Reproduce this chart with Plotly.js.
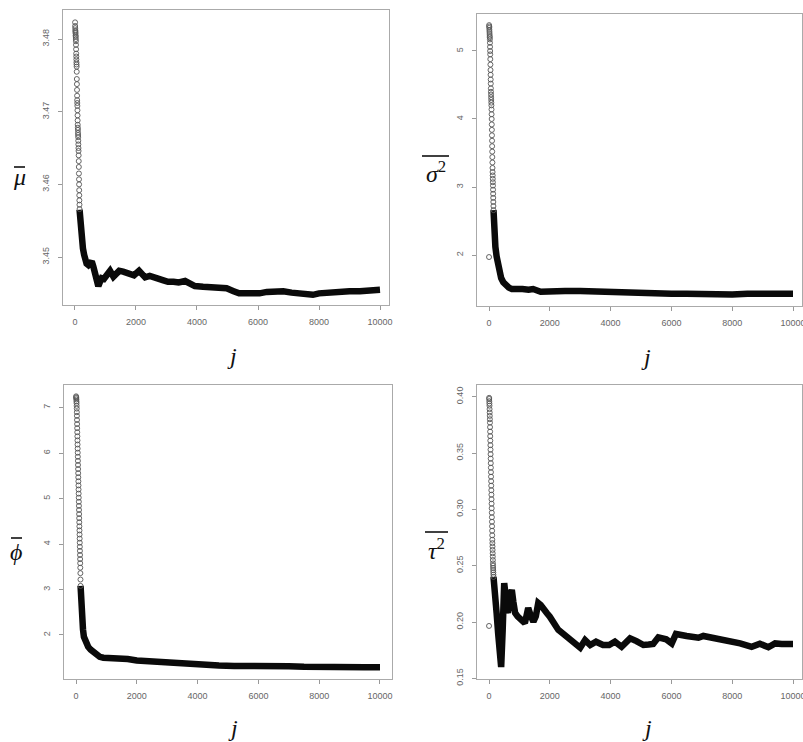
<!DOCTYPE html>
<html>
<head>
<meta charset="utf-8">
<script src="https://cdn.plot.ly/plotly-3.0.1.min.js"></script>
<style>html,body{margin:0;padding:0;background:#fff;}#chart{width:803px;height:742px;}</style>
</head>
<body>
<div id="chart"></div>
<script>
// ---------- data ----------
const xTickVals = [0, 2000, 4000, 6000, 8000, 10000];
const xTickLabels = ['0', '2000', '4000', '6000', '8000', '10000'];

// mu-bar: early scattered running means, then the settled path
const muStackJ = [3,6,9,12,15,18,21,24,27,30,33,36,39,42,45,48,51,54,57,60,63,66,69,72,75,78,81,84,87,90,93,96,99,102,105,108,111,114,117,120,123,126,129,132,135,138,141,144,147,150];
const muStackV = [3.4823,3.4818,3.4815,3.4812,3.4810,3.4808,3.4805,3.4803,3.4800,3.4797,3.4792,3.4786,3.4780,3.4776,3.4772,3.4768,3.4765,3.4762,3.4755,3.4745,3.4738,3.4730,3.4722,3.4716,3.4712,3.4708,3.4702,3.4695,3.4688,3.4682,3.4678,3.4675,3.4671,3.4668,3.4665,3.4660,3.4655,3.4650,3.4646,3.4640,3.4632,3.4624,3.4615,3.4607,3.4600,3.4592,3.4585,3.4578,3.4572,3.4566];
const muJ = [150,170,200,220,260,300,330,380,440,500,550,600,655,700,765,820,875,950,1040,1150,1260,1350,1450,1580,1700,1820,1935,2100,2200,2300,2450,2620,2750,2900,3050,3230,3400,3610,3750,3930,4200,4520,4750,4970,5200,5380,5600,5840,6050,6290,6550,6830,7100,7380,7600,7800,8000,8250,8460,8690,9000,9340,9650,10000];
const muV = [3.4565,3.4552,3.4540,3.4523,3.4512,3.4503,3.4496,3.4491,3.4489,3.4492,3.4494,3.4487,3.4480,3.4468,3.4460,3.4466,3.4471,3.4470,3.4476,3.4481,3.4473,3.4476,3.4481,3.4480,3.4479,3.4477,3.4475,3.4481,3.4477,3.4472,3.4474,3.4473,3.4470,3.4468,3.4466,3.4466,3.4465,3.4467,3.4464,3.4460,3.4459,3.4458,3.4459,3.4457,3.4453,3.4450,3.4450,3.4449,3.4450,3.4452,3.4453,3.4453,3.4451,3.4450,3.4450,3.4448,3.4450,3.4451,3.4452,3.4454,3.4453,3.4453,3.4454,3.4455];
const muTicks = [3.45, 3.46, 3.47, 3.48];

// sigma^2-bar
const sigStackJ = [1,4,7,10,13,16,19,22,25,28,31,34,37,40,43,46,49,52,55,58,61,64,67,70,73,76,79,82,85,88,91,94,97,100,103,106,109,112,115,118,121,124,127,130,133,136,139,142,145,148];
const sigStackV = [1.97,5.38,5.36,5.34,5.31,5.28,5.25,5.22,5.20,5.17,5.12,5.06,5.00,4.95,4.88,4.80,4.72,4.65,4.58,4.52,4.45,4.40,4.36,4.32,4.28,4.24,4.20,4.14,4.07,4.00,3.92,3.84,3.76,3.68,3.60,3.52,3.44,3.36,3.28,3.22,3.17,3.12,3.07,3.02,2.96,2.90,2.84,2.78,2.72,2.66];
const sigJ = [148,160,180,210,250,300,350,400,470,550,650,750,900,1100,1300,1450,1700,2000,2200,2500,3000,3500,4000,4500,5000,5500,6000,6500,7000,7500,8000,8500,9000,9500,10000];
const sigV = [2.66,2.42,2.30,2.12,1.98,1.86,1.74,1.66,1.60,1.56,1.52,1.50,1.51,1.50,1.49,1.50,1.46,1.47,1.48,1.47,1.47,1.46,1.45,1.44,1.44,1.43,1.43,1.43,1.42,1.42,1.42,1.43,1.43,1.42,1.43];
const sigTicks = [2, 3, 4, 5];

// phi-bar
const phiStackJ = [3,6,9,12,15,18,21,24,27,30,33,36,39,42,45,48,51,54,57,60,63,66,69,72,75,78,81,84,87,90,93,96,99,102,105,108,111,114,117,120,123,126,129,132,135,138,141,144,147,150];
const phiStackV = [7.25,7.23,7.21,7.18,7.14,7.10,7.04,6.98,6.90,6.82,6.73,6.64,6.55,6.46,6.37,6.28,6.19,6.10,6.01,5.92,5.83,5.74,5.65,5.56,5.47,5.38,5.29,5.20,5.11,5.02,4.93,4.84,4.75,4.66,4.57,4.48,4.39,4.30,4.21,4.12,4.03,3.94,3.85,3.76,3.67,3.58,3.48,3.36,3.22,3.08];
const phiJ = [150,160,180,200,230,260,300,350,400,480,560,650,780,900,1100,1300,1500,1700,2000,2400,2800,3200,3750,4200,4700,5200,5600,6000,6500,7000,7500,8000,8500,9000,9500,10000];
const phiV = [3.08,2.75,2.50,2.33,2.12,1.96,1.86,1.78,1.74,1.68,1.63,1.57,1.52,1.50,1.50,1.48,1.47,1.47,1.44,1.42,1.40,1.38,1.36,1.34,1.33,1.32,1.31,1.30,1.31,1.31,1.30,1.29,1.29,1.29,1.29,1.29];
const phiTicks = [2, 3, 4, 5, 6, 7];

// tau^2-bar
const tauStackJ = [1,4,7,10,13,16,19,22,25,28,31,34,37,40,43,46,49,52,55,58,61,64,67,70,73,76,79,82,85,88,91,94,97,100,103,106,109,112,115,118,121,124,127,130,133,136,139,142,145,148];
const tauStackV = [0.1965,0.399,0.398,0.396,0.394,0.392,0.389,0.386,0.383,0.380,0.377,0.373,0.369,0.365,0.361,0.357,0.353,0.349,0.345,0.341,0.337,0.333,0.329,0.325,0.321,0.317,0.313,0.309,0.305,0.301,0.297,0.293,0.289,0.285,0.281,0.277,0.273,0.270,0.267,0.264,0.261,0.258,0.255,0.252,0.250,0.248,0.246,0.244,0.242,0.240];
const tauJ = [148,200,250,300,340,400,450,500,540,580,620,680,750,800,860,940,1020,1100,1180,1290,1380,1460,1540,1620,1700,1790,1900,2000,2150,2280,2420,2550,2700,2830,3000,3160,3330,3520,3750,3950,4140,4360,4640,4850,5080,5250,5400,5570,5830,6010,6150,6500,6890,7050,7380,7650,7930,8260,8640,8910,9190,9410,9630,9800,10000];
const tauV = [0.240,0.228,0.208,0.190,0.1725,0.160,0.193,0.2346,0.225,0.2133,0.208,0.222,0.2284,0.218,0.208,0.205,0.2018,0.2010,0.199,0.2124,0.205,0.2003,0.205,0.2168,0.2150,0.211,0.208,0.2047,0.198,0.193,0.190,0.187,0.183,0.1796,0.1772,0.184,0.1796,0.1825,0.1796,0.1796,0.1825,0.178,0.1855,0.183,0.1796,0.1800,0.1805,0.1864,0.1846,0.181,0.1894,0.1876,0.186,0.1876,0.1857,0.185,0.184,0.181,0.178,0.1807,0.1776,0.181,0.1805,0.181,0.1805];
const tauTicks = [0.15, 0.20, 0.25, 0.30, 0.35, 0.40];

// ---------- drawing ----------
const W = 803, H = 742;
const fx = p => p / W;
const fy = p => 1 - p / H;

function stackTrace(x, y, xa, ya) {
  return { x: x, y: y, xaxis: xa, yaxis: ya, type: 'scatter', mode: 'markers',
    marker: { symbol: 'circle-open', size: 5, color: '#555', line: { width: 0.9, color: '#555' } },
    hoverinfo: 'skip', showlegend: false };
}
function pathTrace(x, y, xa, ya) {
  return { x: x, y: y, xaxis: xa, yaxis: ya, type: 'scatter', mode: 'lines',
    line: { color: '#0a0a0a', width: 6.5 }, hoverinfo: 'skip', showlegend: false };
}

const traces = [
  pathTrace(muJ, muV, 'x', 'y'), stackTrace(muStackJ, muStackV, 'x', 'y'),
  pathTrace(sigJ, sigV, 'x2', 'y2'), stackTrace(sigStackJ, sigStackV, 'x2', 'y2'),
  pathTrace(phiJ, phiV, 'x3', 'y3'), stackTrace(phiStackJ, phiStackV, 'x3', 'y3'),
  pathTrace(tauJ, tauV, 'x4', 'y4'), stackTrace(tauStackJ, tauStackV, 'x4', 'y4')
];

const tickFont = { family: 'Liberation Sans, Arial, sans-serif', size: 9, color: '#666' };
function xAxis(domain, range, anchor) {
  return { domain: domain, range: range, anchor: anchor, tickvals: xTickVals, ticktext: xTickLabels,
    ticks: 'outside', ticklen: 4, tickcolor: '#999', tickwidth: 1, tickfont: tickFont,
    ticklabelstandoff: 4, ticklabeloverflow: 'allow',
    showline: true, mirror: true, linecolor: '#aaa', linewidth: 1,
    showgrid: false, zeroline: false, fixedrange: true };
}
function yAxis(domain, range, anchor, vals, fmt) {
  return { domain: domain, range: range, anchor: anchor, tickvals: vals,
    ticktext: vals.map(v => v.toFixed(fmt)), tickangle: -90,
    ticks: 'outside', ticklen: 4, tickcolor: '#999', tickwidth: 1, tickfont: tickFont,
    ticklabelstandoff: 5, ticklabeloverflow: 'allow',
    showline: true, mirror: true, linecolor: '#aaa', linewidth: 1,
    showgrid: false, zeroline: false, fixedrange: true };
}

const labFont = { family: 'Liberation Serif, DejaVu Serif, serif', size: 24, color: '#111' };
function ann(text, x, y) {
  return { text: text, xref: 'paper', yref: 'paper', x: fx(x), y: fy(y),
    xanchor: 'center', yanchor: 'middle', showarrow: false, font: labFont };
}
function bar(x0, x1, y) {
  return { type: 'line', xref: 'paper', yref: 'paper', x0: fx(x0), x1: fx(x1), y0: fy(y), y1: fy(y),
    line: { color: '#111', width: 1.6 } };
}

const layout = {
  width: W, height: H, margin: { l: 0, r: 0, t: 0, b: 0 },
  paper_bgcolor: '#fff', plot_bgcolor: '#fff', showlegend: false,
  xaxis:  xAxis([fx(63), fx(389)], [-393, 10295], 'y'),
  yaxis:  yAxis([fy(305), fy(10)], [3.4434, 3.4840], 'x', muTicks, 2),
  xaxis2: xAxis([fx(477), fx(802)], [-395, 10296], 'y2'),
  yaxis2: yAxis([fy(306), fy(14)], [1.25, 5.544], 'x2', sigTicks, 0),
  xaxis3: xAxis([fx(64), fx(392)], [-395, 10395], 'y3'),
  yaxis3: yAxis([fy(679), fy(385)], [1.032, 7.499], 'x3', phiTicks, 0),
  xaxis4: xAxis([fx(477), fx(802)], [-395, 10296], 'y4'),
  yaxis4: yAxis([fy(679), fy(385)], [0.1494, 0.4104], 'x4', tauTicks, 2),
  annotations: [
    ann('<i>\u03BC</i>', 19, 177),
    ann('<i>\u03C3</i><sup>2</sup>', 436, 172),
    ann('<i>\u03D5</i>', 16, 552),
    ann('<i>\u03C4</i><sup>2</sup>', 437, 549),
    ann('<i>j</i>', 232, 356),
    ann('<i>j</i>', 646, 357),
    ann('<i>j</i>', 233, 728),
    ann('<i>j</i>', 647, 728)
  ],
  shapes: [ bar(422, 449, 156), bar(425, 448, 532), bar(14, 25, 167), bar(11, 22, 538) ]
};

Plotly.newPlot('chart', traces, layout, { staticPlot: true, displayModeBar: false });
</script>
</body>
</html>
